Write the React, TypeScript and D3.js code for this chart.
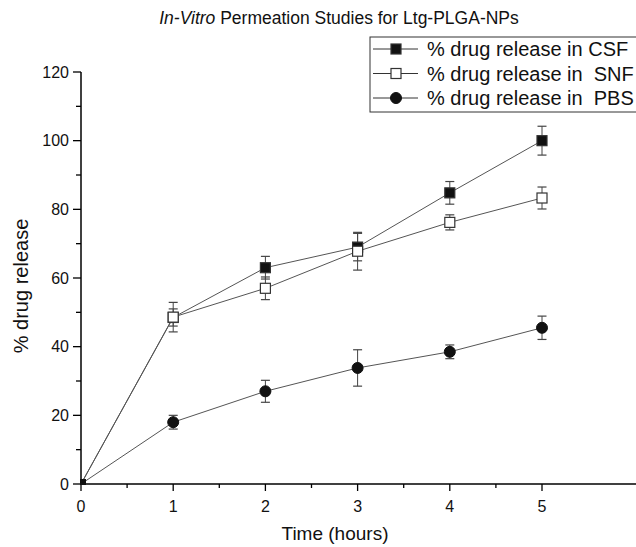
import { useRef, useEffect } from 'react';
import * as d3 from 'd3';

const hours = [0, 1, 2, 3, 4, 5];
const csf = [0, 48.5, 63, 69, 84.8, 100];
const csfErr = [0, 2.5, 3.3, 4, 3.3, 4.2];
const snf = [0, 48.6, 57, 67.8, 76.2, 83.3];
const snfErr = [0, 4.3, 3.3, 5.5, 2.2, 3.2];
const pbs = [0, 18, 27, 33.8, 38.5, 45.5];
const pbsErr = [0, 2, 3.2, 5.3, 2, 3.4];
const seriesNames = ['% drug release in CSF', '% drug release in  SNF', '% drug release in  PBS'];
const yTicks = [0, 20, 40, 60, 80, 100, 120];

const W = 636;
const H = 547;
const FONT = 'Liberation Sans, Arial, sans-serif';

export default function App() {
    const svgRef = useRef<SVGSVGElement>(null);

    useEffect(() => {
        if (!svgRef.current) return;
        const svg = d3.select(svgRef.current);
        svg.selectAll('*').remove();

        const x = d3.scaleLinear().domain([0, 5]).range([81, 542]);
        const y = d3.scaleLinear().domain([0, 120]).range([484, 72]);

        // axes
        const xAxis = svg.append('g').attr('transform', `translate(0,${y(0)})`);
        xAxis.append('line').attr('x1', x(0)).attr('x2', W).attr('stroke', '#000').attr('stroke-width', 1.5);
        d3.range(0, 5.01, 0.5).forEach(t => {
            const major = Number.isInteger(t);
            xAxis.append('line').attr('x1', x(t)).attr('x2', x(t)).attr('y1', 0).attr('y2', major ? 7 : 4)
                .attr('stroke', '#000').attr('stroke-width', 1.3);
            if (major) {
                xAxis.append('text').attr('x', x(t)).attr('y', 28).attr('text-anchor', 'middle')
                    .attr('font-size', 16).attr('font-family', FONT).attr('fill', '#111').text(String(t));
            }
        });

        const yAxis = svg.append('g').attr('transform', `translate(${x(0)},0)`);
        yAxis.append('line').attr('y1', y(0)).attr('y2', y(120)).attr('stroke', '#000').attr('stroke-width', 1.5);
        d3.range(0, 121, 10).forEach(t => {
            const major = yTicks.includes(t);
            yAxis.append('line').attr('x1', 0).attr('x2', major ? -8 : -5).attr('y1', y(t)).attr('y2', y(t))
                .attr('stroke', '#000').attr('stroke-width', 1.3);
            if (major) {
                yAxis.append('text').attr('x', -12).attr('y', y(t)).attr('dy', '0.35em').attr('text-anchor', 'end')
                    .attr('font-size', 16).attr('font-family', FONT).attr('fill', '#111').text(String(t));
            }
        });

        // axis titles
        svg.append('text').attr('x', 335).attr('y', 540).attr('text-anchor', 'middle')
            .attr('font-size', 19).attr('font-family', FONT).attr('fill', '#111').text('Time (hours)');
        svg.append('text').attr('transform', `translate(28,${286}) rotate(-90)`).attr('text-anchor', 'middle')
            .attr('font-size', 20).attr('font-family', FONT).attr('fill', '#111').text('% drug release');

        // title
        const title = svg.append('text').attr('x', 339).attr('y', 24).attr('text-anchor', 'middle')
            .attr('font-size', 17.5).attr('font-family', FONT).attr('fill', '#111');
        title.append('tspan').attr('font-style', 'italic').text('In-Vitro');
        title.append('tspan').text(' Permeation Studies for Ltg-PLGA-NPs');

        const series = [
            { vals: csf, err: csfErr, marker: 'square', fill: '#111' },
            { vals: snf, err: snfErr, marker: 'square', fill: '#fff' },
            { vals: pbs, err: pbsErr, marker: 'circle', fill: '#111' },
        ];

        const line = d3.line<number>().x((_, i) => x(hours[i])).y(d => y(d));

        const drawMarker = (g: d3.Selection<SVGGElement, unknown, null, undefined>, cx: number, cy: number, marker: string, fill: string) => {
            if (marker === 'square') {
                g.append('rect').attr('x', cx - 5).attr('y', cy - 5).attr('width', 10).attr('height', 10)
                    .attr('fill', fill).attr('stroke', '#333').attr('stroke-width', 1.2);
            } else {
                g.append('circle').attr('cx', cx).attr('cy', cy).attr('r', 5.5).attr('fill', fill).attr('stroke', '#111');
            }
        };

        series.forEach(s => {
            const g = svg.append('g');
            // error bars
            s.vals.forEach((v, i) => {
                if (!s.err[i]) return;
                const cx = x(hours[i]);
                const t = y(v + s.err[i]);
                const b = y(v - s.err[i]);
                g.append('line').attr('x1', cx).attr('x2', cx).attr('y1', t).attr('y2', b).attr('stroke', '#444').attr('stroke-width', 1);
                g.append('line').attr('x1', cx - 4.5).attr('x2', cx + 4.5).attr('y1', t).attr('y2', t).attr('stroke', '#444').attr('stroke-width', 1.2);
                g.append('line').attr('x1', cx - 4.5).attr('x2', cx + 4.5).attr('y1', b).attr('y2', b).attr('stroke', '#444').attr('stroke-width', 1.2);
            });
            g.append('path').datum(s.vals).attr('d', line).attr('fill', 'none').attr('stroke', '#555').attr('stroke-width', 1);
        });
        series.forEach(s => {
            const g = svg.append('g');
            s.vals.forEach((v, i) => {
                if (i === 0) {
                    g.append('rect').attr('x', x(0) - 1).attr('y', y(0) - 5).attr('width', 6).attr('height', 6).attr('fill', '#111');
                    return;
                }
                drawMarker(g, x(hours[i]), y(v), s.marker, s.fill);
            });
        });

        // legend
        const lg = svg.append('g');
        lg.append('rect').attr('x', 370).attr('y', 37).attr('width', 270).attr('height', 75)
            .attr('fill', '#fff').attr('stroke', '#333').attr('stroke-width', 1);
        series.forEach((s, i) => {
            const ly = 49 + i * 24.5;
            lg.append('line').attr('x1', 373).attr('x2', 418).attr('y1', ly).attr('y2', ly).attr('stroke', '#333').attr('stroke-width', 1);
            drawMarker(lg, 396, ly, s.marker, s.fill);
            lg.append('text').attr('x', 427).attr('y', ly).attr('dy', '0.35em').attr('font-size', 20)
                .attr('font-family', FONT).attr('fill', '#111').style('white-space', 'pre')
                .text(seriesNames[i]);
        });
    }, []);

    return (
        <svg ref={svgRef} width={W} height={H}
            style={{ position: 'absolute', left: 0, top: 0, background: '#fff' }} />
    );
}
